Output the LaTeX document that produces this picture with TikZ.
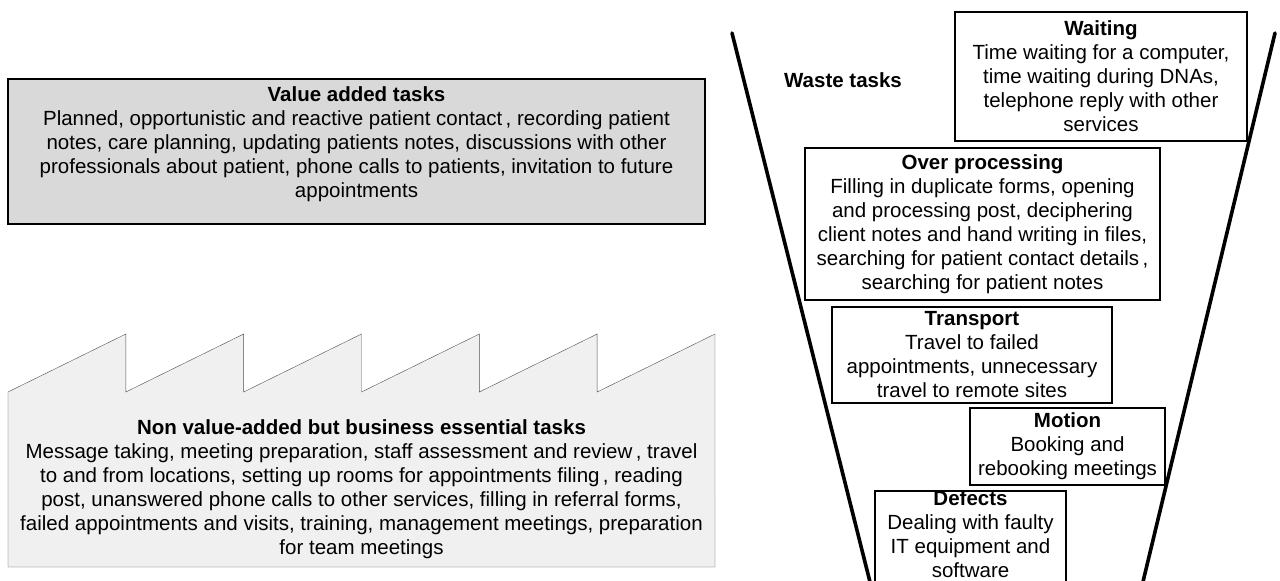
\documentclass[tikz,border=0pt]{standalone}
\usepackage{fontspec}
\setmainfont{Liberation Sans}
\usepackage{xcolor}
\definecolor{valuegrey}{HTML}{D9D9D9}
\definecolor{factorygrey}{HTML}{F0F0F0}
\definecolor{factoryline}{HTML}{505050}
\tikzset{
  tasktext/.style={align=center,font=\fontsize{20.5}{24}\selectfont,inner sep=0pt},
  boxline/.style={draw=black,line width=1.5pt,fill=white},
  wastebox/.style={tasktext,boxline},
  funnelside/.style={line width=3.6pt,line cap=round}
}

\begin{document}
\begin{tikzpicture}[x=1pt,y=-1pt]

\clip (0,0) rectangle (1280,581);

\filldraw[draw=black,line width=2pt,fill=valuegrey] (8,79) rectangle (705,224);

\node[tasktext] (value) at (356.5,144)
{\textbf{Value added tasks}\\
Planned, opportunistic and reactive patient contact\,, recording patient\\
notes, care planning, updating patients notes, discussions with other\\
professionals about patient, phone calls to patients, invitation to future\\
appointments};

\draw[factoryline,fill=factorygrey] (8,567) -- (8,392)
  foreach \i in {1,...,6} { -- ++(117.83,-58) -- ++(0,58) } -- (715,567) -- cycle;

\node[tasktext] (factory) at (361.5,489)
{\textbf{Non value-added but business essential tasks}\\
Message taking, meeting preparation, staff assessment and review\,, travel\\
to and from locations, setting up rooms for appointments filing\,, reading\\
post, unanswered phone calls to other services, filling in referral forms,\\
failed appointments and visits, training, management meetings, preparation\\
for team meetings};

\draw[funnelside] (732,33) -- (872,590);
\draw[funnelside] (1275,33) -- (1141,590);

\node[tasktext,font=\fontsize{20.5}{24}\selectfont\bfseries] (waste) at (843,80) {Waste tasks};

\node[wastebox,minimum width=292pt,minimum height=129pt] (waiting) at (1101,76.5)
{\textbf{Waiting}\\
Time waiting for a computer,\\
time waiting during DNAs,\\
telephone reply with other\\
services};

\node[wastebox,minimum width=355pt,minimum height=152pt] (overproc) at (982.5,224)
{\textbf{Over processing}\\
Filling in duplicate forms, opening\\
and processing post, deciphering\\
client notes and hand writing in files,\\
searching for patient contact details\,,\\
searching for patient notes};

\node[wastebox,minimum width=280pt,minimum height=96pt] (transport) at (972,355)
{\textbf{Transport}\\
Travel to failed\\
appointments, unnecessary\\
travel to remote sites};

\node[wastebox,minimum width=195pt,minimum height=77pt] (motion) at (1067.5,446.5)
{\textbf{Motion}\\
Booking and\\
rebooking meetings};

\draw[boxline] (875,491) rectangle (1066,595);

\node[tasktext] (defects) at (970.5,534)
{\textbf{Defects}\\
Dealing with faulty\\
IT equipment and\\
software};

\end{tikzpicture}
\end{document}
